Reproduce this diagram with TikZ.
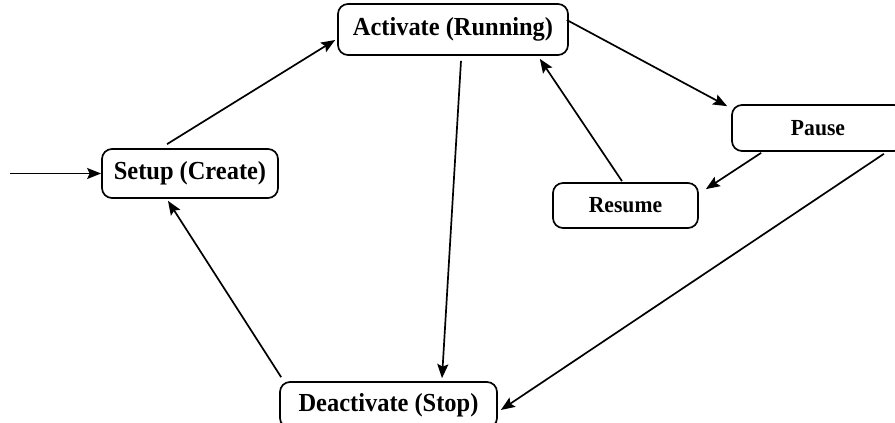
\documentclass[tikz,border=0pt]{standalone}
\usepackage{fontspec}
\setmainfont{Liberation Serif}
\newfontfamily\lblfont[FakeStretch=0.94]{Liberation Serif}
\usetikzlibrary{arrows.meta,calc}

\tikzset{
  state/.style={draw, line width=1.7pt, rounded corners=10pt, fill=white,
    inner sep=0pt, font=\lblfont\bfseries\fontsize{26}{28}\selectfont},
  smallstate/.style={state, font=\lblfont\bfseries\fontsize{23}{25}\selectfont},
  trans/.style={line width=1.7pt, -{Stealth[length=14pt,width=11pt,inset=2.5pt]}}
}

\begin{document}
\begin{tikzpicture}[x=1pt,y=-1pt]
  \useasboundingbox (0,0) rectangle (895,423);
  \fill[white] (0,0) rectangle (895,423);
  \clip (0,0) rectangle (895,423);

  % states
  \node[state, minimum width=230pt, minimum height=51pt] (act) at (453,29.5) {\raisebox{-3pt}{Activate (Running)}};
  \node[state, minimum width=176pt, minimum height=49pt] (setup) at (190,173.5) {Setup (Create)};
  \node[smallstate, minimum width=172pt, minimum height=46pt] (pause) at (818,128) {Pause};
  \node[smallstate, minimum width=145pt, minimum height=45pt] (resume) at (625.5,205.5) {Resume};
  \node[state, minimum width=217pt, minimum height=46pt] (deact) at (388.5,405) {\raisebox{3pt}{Deactivate (Stop)}};

  % entry point
  \coordinate (entry) at (10,173.5);
  \draw[trans] (entry) -- (setup.west);

  % transitions
  \draw[trans] ($(setup.north)+(-23,-4)$) -- ($(act.west)+(-2,10.5)$);
  \draw[trans] ($(act.east)+(-2,-9.5)$) -- ($(pause.north west)+(-4,2)$);
  \draw[trans] ($(pause.south west)+(30,1)$) -- ($(resume.north east)+(7,7)$);
  \draw[trans] ($(resume.north)+(-3.5,-1)$) -- ($(act.south east)+(-29,3)$);
  \draw[trans] ($(act.south)+(8,5)$) -- ($(deact.north)+(53.5,-3)$);
  \draw[trans] ($(pause.south east)+(-21,2)$) -- ($(deact.east)+(3,5)$);
  \draw[trans] ($(deact.north west)+(2,-4)$) -- ($(setup.south)+(-22,2)$);
\end{tikzpicture}
\end{document}
